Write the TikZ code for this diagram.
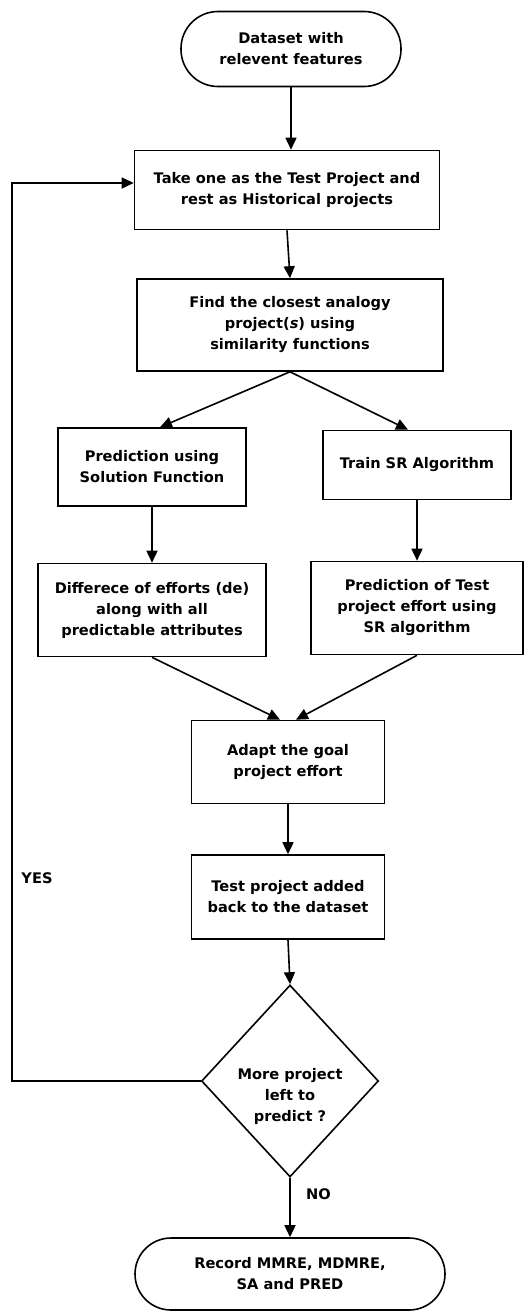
\documentclass[tikz,border=0pt]{standalone}
\usepackage{fontspec}
\setmainfont{DejaVu Sans}
\usetikzlibrary{arrows.meta}
\usetikzlibrary{positioning}
\usetikzlibrary{shapes}
\tikzset{block/.style={draw, line width=1.6pt, align=center, font=\bfseries\fontsize{14.6}{21}\selectfont}}
\tikzset{connect/.style={draw, line width=1.6pt, -{Triangle[length=12pt,width=11pt]}}}
\tikzset{lbl/.style={font=\bfseries\fontsize{14.6}{16}\selectfont}}

\begin{document}
\begin{tikzpicture}[x=1pt,y=-1pt]
\useasboundingbox (0,0) rectangle (530,1314);

%start
\node[block,rounded corners=37pt,minimum height=75pt,minimum width=220pt] (start) at (291,49) {Dataset with\\relevent features};

%main column
\node[block,minimum height=79pt,minimum width=305pt] (test) at([yshift=-141pt,xshift=-4pt]start) {Take one as the Test Project and\\rest as Historical projects};
\node[block,minimum height=92pt,minimum width=306pt] (closest) at([yshift=-135pt,xshift=3pt]test) {Find the closest analogy\\project(\textit{s}) using\\similarity functions};

%two branches
\node[block,minimum height=78pt,minimum width=188pt] (predsol) at([yshift=-142pt,xshift=-138pt]closest) {Prediction using\\Solution Function};
\node[block,minimum height=69pt,minimum width=188pt] (train) at([yshift=-140pt,xshift=127pt]closest) {Train SR Algorithm};
\node[block,minimum height=93pt,minimum width=228pt] (diff) at([yshift=-143pt]predsol) {Differece of efforts (de)\\along with all\\predictable attributes};
\node[block,minimum height=93pt,minimum width=212pt] (predsr) at([yshift=-143pt]train) {Prediction of Test\\project effort using\\SR algorithm};

%join
\node[block,minimum height=83pt,minimum width=193pt] (adapt) at([yshift=-437pt,xshift=-2pt]closest) {Adapt the goal\\project effort};
\node[block,minimum height=84pt,minimum width=193pt] (added) at([yshift=-135pt]adapt) {Test project added\\back to the dataset};
\node[block,diamond,inner sep=0pt,minimum height=192pt,minimum width=177pt] (decide) at([yshift=-184pt,xshift=2pt]added) {\raisebox{-18.5pt}[0pt][0pt]{\begin{tabular}{@{}c@{}}More project\\left to\\predict ?\end{tabular}}};
\node[block,rounded corners=36pt,minimum height=72pt,minimum width=310pt] (record) at([yshift=-193pt]decide) {Record MMRE, MDMRE,\\SA and PRED};

%flow
\path[connect] (start.south) -- (start.south |- test.north);
\path[connect] (test.south) -- (closest.north);
\path[connect] (closest.south) -- ([xshift=8pt]predsol.north);
\path[connect] (closest.south) -- ([xshift=-9pt]train.north);
\path[connect] (predsol.south) -- (diff.north);
\path[connect] (train.south) -- (predsr.north);
\path[connect] (diff.south) -- ([xshift=-8pt]adapt.north);
\path[connect] (predsr.south) -- ([xshift=8pt]adapt.north);
\path[connect] (adapt.south) -- (added.north);
\path[connect] (added.south) -- (decide.north);
\path[connect] (decide.south) -- node[lbl,pos=0.27,right=12pt] (no) {NO} (record.north);

%loop back
\coordinate (rail) at (12,1081);
\path[connect] (decide.west) -- (rail) |- ([yshift=7pt]test.west);
\node[lbl] (yes) at (37,878) {YES};

\end{tikzpicture}
\end{document}
